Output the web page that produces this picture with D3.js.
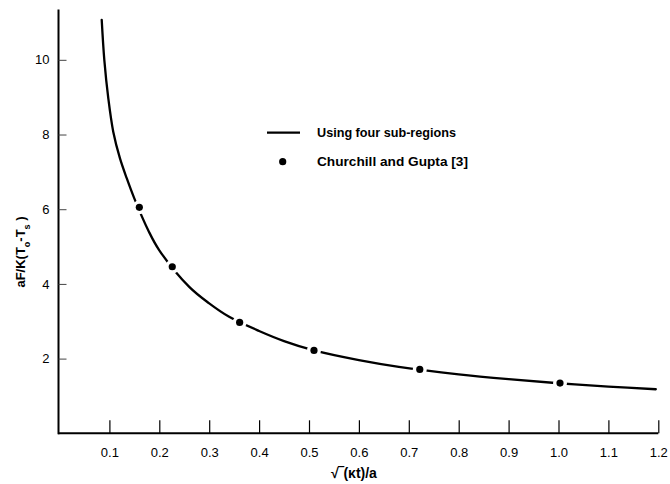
<!DOCTYPE html>
<html>
<head>
<meta charset="utf-8">
<script src="https://cdn.jsdelivr.net/npm/d3@7"></script>
<style>
  html, body { margin: 0; padding: 0; background: #fff; }
  svg { display: block; }
  text { font-family: "Liberation Sans", Arial, sans-serif; fill: #000; }
</style>
</head>
<body>
<script>
// ---- data ----
const curveX = [0.0846, 0.0898, 0.0978, 0.1078, 0.1212, 0.1347, 0.1499, 0.178, 0.2, 0.26, 0.3, 0.34, 0.4, 0.45, 0.51, 0.6, 0.68, 0.8, 0.9, 1.0, 1.1, 1.195];
const curveY = [11.07, 10.0, 8.97, 8.07, 7.36, 6.83, 6.29, 5.43, 4.9, 3.92, 3.48, 3.12, 2.74, 2.47, 2.22, 1.96, 1.78, 1.58, 1.45, 1.34, 1.25, 1.18];
const dotX = [0.16, 0.226, 0.361, 0.51, 0.722, 1.003];
const dotY = [6.05, 4.46, 2.97, 2.22, 1.71, 1.345];
const xTickValues = [0.1, 0.2, 0.3, 0.4, 0.5, 0.6, 0.7, 0.8, 0.9, 1.0, 1.1, 1.2];
const xTickLabels = ["0.1", "0.2", "0.3", "0.4", "0.5", "0.6", "0.7", "0.8", "0.9", "1.0", "1.1", "1.2"];
const yTickValues = [2, 4, 6, 8, 10];
const yTickLabels = ["2", "4", "6", "8", "10"];
const legendLabels = ["Using four sub-regions", "Churchill and Gupta [3]"];
const xTitle = "\u221A\u203E(\u03BAt)/a";

// ---- layout ----
const W = 670, H = 484;
const svg = d3.select("body").append("svg").attr("width", W).attr("height", H);

const x = d3.scaleLinear().domain([0, 1.2]).range([59.5, 658.3]);
const y = d3.scaleLinear().domain([0, 11.35]).range([433.3, 9.4]);

// x axis
const xAxis = d3.axisBottom(x)
  .tickValues(xTickValues)
  .tickFormat((d, i) => xTickLabels[i])
  .tickSize(-13)
  .tickSizeOuter(0)
  .tickPadding(14);
const gx = svg.append("g").attr("transform", `translate(0,${y(0)})`).call(xAxis);
gx.select(".domain").attr("stroke", "#000").attr("stroke-width", 2).attr("d", `M${x(0) - 1.5},0H${x(1.2)}`);
gx.selectAll(".tick line").attr("stroke", "#000").attr("stroke-width", 1.2);
gx.selectAll(".tick text").style("font-size", "13px").attr("fill", "#000");

// y axis
const yAxis = d3.axisLeft(y)
  .tickValues(yTickValues)
  .tickFormat((d, i) => yTickLabels[i])
  .tickSize(-8)
  .tickSizeOuter(0)
  .tickPadding(9);
const gy = svg.append("g").attr("transform", `translate(${x(0) - 1},0)`).call(yAxis);
gy.select(".domain").attr("stroke", "#000").attr("stroke-width", 2).attr("d", `M0,${y(0) + 1}V${y(11.35)}`);
gy.selectAll(".tick line").attr("stroke", "#444").attr("stroke-width", 1);
gy.selectAll(".tick text").style("font-size", "13px").attr("fill", "#000");

// curve
const pts = curveX.map((v, i) => [v, curveY[i]]);
const line = d3.line().x(d => x(d[0])).y(d => y(d[1])).curve(d3.curveCatmullRom.alpha(0.5));
svg.append("path").datum(pts)
  .attr("d", line)
  .attr("fill", "none")
  .attr("stroke", "#000")
  .attr("stroke-width", 2.3)
  .attr("stroke-linecap", "round");

// dots with white gap around them
const dots = dotX.map((v, i) => [v, dotY[i]]);
svg.append("g").selectAll("circle.halo").data(dots).enter().append("circle")
  .attr("cx", d => x(d[0])).attr("cy", d => y(d[1])).attr("r", 7).attr("fill", "#fff");
svg.append("g").selectAll("circle.dot").data(dots).enter().append("circle")
  .attr("cx", d => x(d[0])).attr("cy", d => y(d[1])).attr("r", 3.6).attr("fill", "#000");

// legend
const lg = svg.append("g");
lg.append("line").attr("x1", 267).attr("x2", 300).attr("y1", 132.7).attr("y2", 132.7)
  .attr("stroke", "#000").attr("stroke-width", 2.3);
lg.append("circle").attr("cx", 282.7).attr("cy", 161.7).attr("r", 3.6).attr("fill", "#000");
lg.append("text").attr("x", 317).attr("y", 132.7).attr("dy", "0.35em")
  .style("font-size", "13px").style("font-weight", "bold")
  .attr("textLength", 139).attr("lengthAdjust", "spacingAndGlyphs")
  .text(legendLabels[0]);
lg.append("text").attr("x", 317).attr("y", 161.7).attr("dy", "0.35em")
  .style("font-size", "13px").style("font-weight", "bold")
  .attr("textLength", 151).attr("lengthAdjust", "spacingAndGlyphs")
  .text(legendLabels[1]);

// x title
svg.append("text").attr("x", 354).attr("y", 473).attr("dy", "0.35em")
  .attr("text-anchor", "middle")
  .style("font-size", "14px").style("font-weight", "bold")
  .text(xTitle);

// y title
const yt = svg.append("text")
  .attr("transform", "translate(20,252) rotate(-90)")
  .attr("text-anchor", "middle")
  .attr("dy", "0.35em")
  .style("font-size", "13px").style("font-weight", "bold");
yt.append("tspan").text("aF/K(T");
yt.append("tspan").attr("baseline-shift", "sub").style("font-size", "9px").text("o");
yt.append("tspan").text("-T");
yt.append("tspan").attr("baseline-shift", "sub").style("font-size", "9px").text("s");
yt.append("tspan").text(" )");
</script>
</body>
</html>
